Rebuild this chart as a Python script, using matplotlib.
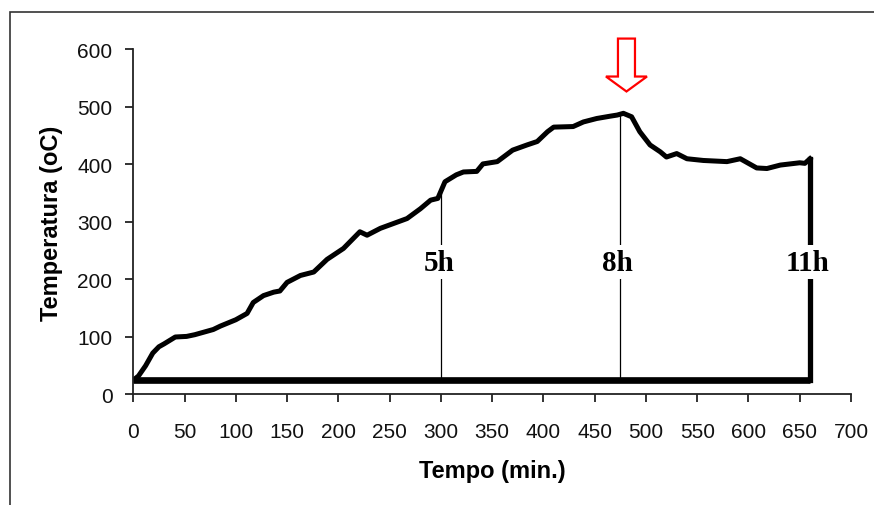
import matplotlib
matplotlib.use('Agg')

import numpy as np
import matplotlib.pyplot as plt
from matplotlib.patches import FancyArrow, Rectangle

# furnace temperature curve
tempo = [0, 5, 12, 19, 25, 30, 41, 52, 60, 68, 78, 85, 100, 111, 117, 127, 137, 143,
         150, 163, 176, 189, 205, 221, 228, 241, 267, 280, 290, 297, 304, 315, 322,
         335, 341, 355, 370, 384, 394, 404, 410, 429, 439, 452, 465, 472, 478, 486,
         494, 504, 514, 520, 530, 540, 556, 579, 592, 608, 618, 631, 650, 655, 660]
temperatura = [25, 32, 50, 72, 83, 88, 100, 101, 104, 108, 113, 119, 130, 141, 160, 172,
               178, 180, 195, 207, 213, 235, 254, 283, 277, 289, 306, 323, 338, 341, 370,
               382, 387, 388, 401, 405, 425, 434, 440, 457, 465, 466, 474, 480, 484, 486,
               489, 483, 457, 434, 422, 413, 419, 410, 407, 405, 410, 394, 393, 399, 403,
               402, 410]
base = 25

marcas = [300, 475]            # thin vertical markers (5h, 8h)
rotulos = ['5h', '8h', '11h']
rotulos_x = [298, 472, 658]
rotulos_y = 230

seta_x = 481                   # red arrow above the peak
seta_topo = 619
seta_ponta = 527

xticks = list(range(0, 701, 50))
yticks = list(range(0, 601, 100))

plt.rcParams['font.family'] = ['Liberation Sans', 'DejaVu Sans']

fig = plt.figure(figsize=(8.74, 5.06), dpi=100)
ax = fig.add_axes([0.1525, 0.2184, 0.8212, 0.6818])

# outer chart frame (only top and left are visible)
fig.add_artist(Rectangle((10 / 874, -0.2), 1.2, 1 - 13 / 506 + 0.2, transform=fig.transFigure,
                         fill=False, ec='#333333', lw=1.2))

ax.plot(tempo, temperatura, color='black', lw=3.6, solid_joinstyle='round', zorder=2)
ax.plot([tempo[-1], tempo[-1]], [temperatura[-1], base], color='black', lw=3.8, zorder=2)
ax.plot([tempo[0], tempo[-1]], [base, base], color='black', lw=4.8, solid_capstyle='butt', zorder=2)

for m in marcas:
    ax.plot([m, m], [base, np.interp(m, tempo, temperatura)], color='black', lw=0.9, zorder=1)

for r, x in zip(rotulos, rotulos_x):
    ax.text(x, rotulos_y, r, ha='center', va='center', fontsize=21, fontweight='bold',
            family=['Liberation Serif', 'DejaVu Serif'], zorder=4,
            bbox=dict(boxstyle='square,pad=0.12', fc='white', ec='none'))

ax.add_patch(FancyArrow(seta_x, seta_topo, 0, seta_ponta - seta_topo, width=16.6,
                        head_width=40, head_length=26, length_includes_head=True,
                        fc='white', ec='red', lw=1.6, clip_on=False, zorder=5))

ax.set_xlim(0, 700)
ax.set_ylim(0, 600)
ax.set_xticks(xticks)
ax.set_yticks(yticks)
ax.spines['top'].set_visible(False)
ax.spines['right'].set_visible(False)
for s in ['left', 'bottom']:
    ax.spines[s].set_linewidth(1.3)
    ax.spines[s].set_color('#222222')
ax.tick_params(direction='out', length=6, width=1.3, labelsize=15, color='#222222',
               labelcolor='#111111')
ax.tick_params(axis='x', pad=13.5)
ax.tick_params(axis='y', pad=9)

ax.set_xlabel('Tempo (min.)', fontsize=17, fontweight='bold', labelpad=13)
ax.set_ylabel('Temperatura (oC)', fontsize=17, fontweight='bold', labelpad=10)

fig.savefig('out.png', dpi=100, facecolor='white')
plt.close(fig)
